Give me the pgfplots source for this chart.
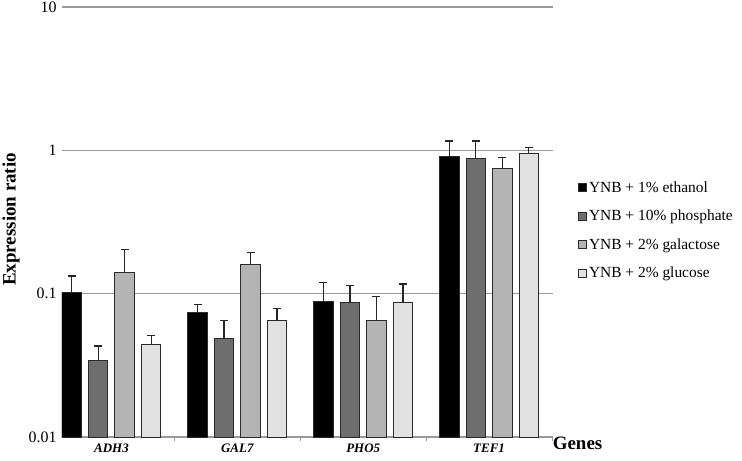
\documentclass[border=0pt]{standalone}
\usepackage{pgfplots}
\pgfplotsset{compat=1.18}
\usepackage{pgfplotstable}
\usepackage{fontspec}
\setmainfont{Liberation Serif}
\definecolor{cBlack}{HTML}{000000}
\definecolor{cDark}{HTML}{6E6E6E}
\definecolor{cMed}{HTML}{B4B4B4}
\definecolor{cLight}{HTML}{E2E2E2}
\definecolor{gridc}{HTML}{9A9A9A}
\definecolor{edgec}{HTML}{2A2A2A}

\pgfplotstableread{
x y ey
0 0.102 0.031
1 0.0742 0.0101
2 0.088 0.031
3 0.904 0.259
}\ethanol
\pgfplotstableread{
x y ey
0 0.0341 0.009
1 0.0483 0.0169
2 0.0861 0.0284
3 0.881 0.282
}\phosphate
\pgfplotstableread{
x y ey
0 0.141 0.063
1 0.161 0.033
2 0.0652 0.0301
3 0.742 0.153
}\galactose
\pgfplotstableread{
x y ey
0 0.0441 0.0072
1 0.0652 0.0134
2 0.0861 0.0309
3 0.944 0.100
}\glucose

\begin{document}
\begin{tikzpicture}
\useasboundingbox (-62bp,-24bp) rectangle (680bp,437bp);
\begin{axis}[
  at={(0,0)}, anchor=south west,
  scale only axis, width=491bp, height=430bp,
  ymode=log, log origin=infty,
  ymin=0.01, ymax=10,
  xmin=-0.393, xmax=3.508,
  ybar=7bp, bar width=19.5bp,
  axis x line*=bottom, axis y line*=left,
  x axis line style={draw=gridc, line width=1bp, -},
  y axis line style={draw=none},
  ytick={0.01,0.1,1,10},
  yticklabels={0.01,0.1,1,10},
  yminorticks=false,
  ymajorgrids, major grid style={draw=gridc, line width=1.1bp},
  major y tick style={draw=none},
  yticklabel style={font=\fontsize{16}{18}\selectfont, xshift=-2bp},
  /pgf/number format/assume math mode=true,
  xtick={0,1,2,3},
  xticklabels={ADH3,GAL7,PHO5,TEF1},
  xticklabel style={font=\fontsize{13}{15}\selectfont\bfseries\itshape, yshift=1bp},
  major x tick style={draw=none},
  extra x ticks={0.5,1.5,2.5,3.5},
  extra x tick labels={},
  extra x tick style={tick align=outside, major tick length=4bp, major x tick style={draw=gridc, line width=0.8bp}, xmajorgrids=false},
  ylabel={Expression ratio},
  ylabel style={font=\fontsize{19}{22}\selectfont\bfseries, at={(rel axis cs:0,0.506)}, anchor=center, yshift=51bp},
  xlabel={Genes},
  xlabel style={font=\fontsize{19}{22}\selectfont\bfseries, at={(rel axis cs:1.05,0)}, anchor=center, yshift=-6bp},
  legend style={at={(rel axis cs:1.051,0.481)}, anchor=west, draw=none, fill=none,
    font=\fontsize{15.5}{18}\selectfont, row sep=12.3bp, inner sep=0pt,
    /tikz/every even column/.append style={column sep=0bp}},
  legend cell align=left,
  legend image code/.code={\draw[#1, draw=edgec, line width=0.8bp] (0bp,-4bp) rectangle (8bp,4bp);},
  every axis plot/.append style={draw=edgec, line width=1bp},
  error bars/y dir=plus, error bars/y explicit,
  error bars/error bar style={draw=black!85, line width=1.3bp},
  error bars/error mark options={draw=black!85, line width=1.3bp, mark size=4bp, rotate=90},
]
\addplot[fill=cBlack] table[x=x, y=y, y error=ey] {\ethanol};
\addplot[fill=cDark] table[x=x, y=y, y error=ey] {\phosphate};
\addplot[fill=cMed] table[x=x, y=y, y error=ey] {\galactose};
\addplot[fill=cLight] table[x=x, y=y, y error=ey] {\glucose};
\legend{YNB + 1\% ethanol, YNB + 10\% phosphate, YNB + 2\% galactose, YNB + 2\% glucose}
\end{axis}
\end{tikzpicture}
\end{document}
